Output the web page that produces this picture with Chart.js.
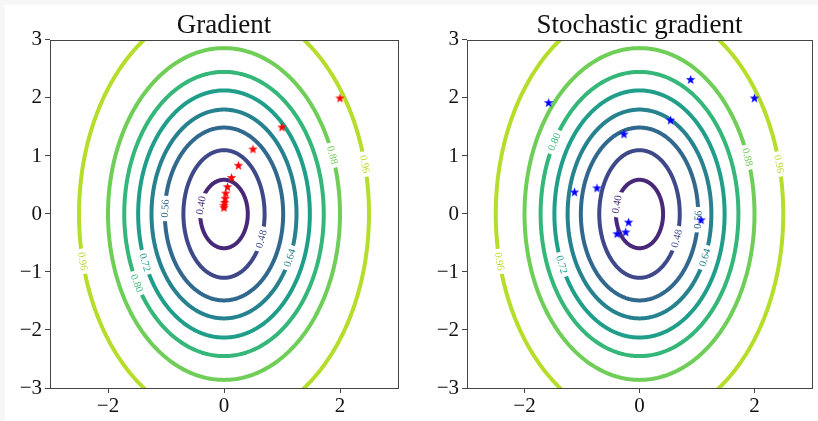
<!DOCTYPE html>
<html>
<head>
<meta charset="utf-8">
<script src="https://cdn.jsdelivr.net/npm/chart.js@4"></script>
<style>
html,body{margin:0;padding:0;background:#f7f7f7;}
#fig{position:absolute;left:5px;top:5px;width:813px;height:416px;background:#fff;}
#fig canvas{position:absolute;top:0;}
</style>
</head>
<body>
<div id="fig">
<canvas id="gradChart" width="404" height="416" style="left:0"></canvas>
<canvas id="sgdChart" width="409" height="416" style="left:404px"></canvas>
</div>
<script>
// contour levels and the semi-axes of each ellipse
const levels = [0.40,0.48,0.56,0.64,0.72,0.80,0.88,0.96];
const semiX = [0.41,0.70,1.02,1.25,1.48,1.72,2.00,2.50];
const semiY = [0.59,1.10,1.49,1.80,2.13,2.45,2.86,3.60];
const levelColors = ['#482878','#3e4989','#31688e','#26828e','#1f9e89','#35b779','#6ece58','#b5de2b'];

const xTicks = [-2,0,2];
const yTicks = [-3,-2,-1,0,1,2,3];

// gradient iterates
const gdX = [2,1,0.5,0.25,0.13,0.06,0.03,0.02,0.01,0.0,0.0];
const gdY = [2,1.5,1.12,0.84,0.63,0.47,0.36,0.27,0.2,0.15,0.11];
// stochastic gradient iterates
const sgdX = [2,0.89,-1.58,0.54,-0.27,-1.13,-0.74,1.07,-0.19,-0.24,-0.39];
const sgdY = [2,2.32,1.92,1.62,1.38,0.38,0.45,-0.10,-0.14,-0.31,-0.34];

// inline contour labels
const gdLabelLevel = [0.40,0.48,0.56,0.64,0.72,0.80,0.88,0.96,0.96];
const gdLabelX = [-0.43,0.67,-1.07,1.11,-1.39,-1.51,1.88,2.46,-2.45];
const gdLabelY = [0.16,-0.45,0.10,-0.74,-0.85,-1.20,1.02,0.87,-0.82];
const sgdLabelLevel = [0.40,0.48,0.56,0.64,0.72,0.80,0.88,0.96,0.96];
const sgdLabelX = [-0.43,0.69,1.04,1.12,-1.32,-1.49,1.90,2.45,-2.44];
const sgdLabelY = [0.18,-0.45,-0.10,-0.74,-0.85,1.25,0.99,0.87,-0.82];

const SERIF = '"Liberation Serif", "DejaVu Serif", serif';

function ellipsePoints(a,b){
  const pts=[];
  for(let i=0;i<=240;i++){
    const t=2*Math.PI*i/240;
    pts.push({x:a*Math.cos(t), y:b*Math.sin(t)});
  }
  return pts;
}

function starImage(color){
  const c=document.createElement('canvas');
  c.width=11; c.height=11;
  const g=c.getContext('2d');
  g.fillStyle=color;
  g.beginPath();
  for(let i=0;i<10;i++){
    const r=i%2?2.0:5.0;
    const ang=-Math.PI/2+i*Math.PI/5;
    g.lineTo(5.5+r*Math.cos(ang),5.9+r*Math.sin(ang));
  }
  g.closePath(); g.fill();
  return c;
}

const fmt = v => v<0 ? '\u2212'+Math.abs(v) : String(v);

// labels are painted just before the stars (dataset 0) so the stars stay on top
const contourLabels = {
  id:'contourLabels',
  beforeDatasetDraw(chart,args,opts){
    if(args.index!==0) return;
    const ctx=chart.ctx, xs=chart.scales.x, ys=chart.scales.y;
    ctx.save();
    ctx.font='10.5px '+SERIF;
    ctx.textAlign='center'; ctx.textBaseline='middle';
    opts.lv.forEach((L,i)=>{
      const k=levels.indexOf(L);
      const a=semiX[k], b=semiY[k];
      const t=Math.atan2(opts.ly[i]/b, opts.lx[i]/a);
      const px=xs.getPixelForValue(a*Math.cos(t)), py=ys.getPixelForValue(b*Math.sin(t));
      const dx=xs.getPixelForValue(-a*Math.sin(t))-xs.getPixelForValue(0);
      const dy=-(ys.getPixelForValue(b*Math.cos(t))-ys.getPixelForValue(0));
      let deg=Math.atan2(dy,dx)*180/Math.PI;
      deg=((deg+90)%180+180)%180-90;
      const txt=L.toFixed(2);
      const w=ctx.measureText(txt).width;
      ctx.save();
      ctx.translate(px,py);
      ctx.rotate(-deg*Math.PI/180);
      ctx.fillStyle='#fff';
      ctx.fillRect(-w/2-3.5,-4,w+7,8);
      ctx.fillStyle=levelColors[k];
      ctx.fillText(txt,0,0.5);
      ctx.restore();
    });
    ctx.restore();
  }
};

const frame = {
  id:'frame',
  afterDraw(chart){
    const {ctx, chartArea:{left,top,right,bottom}}=chart;
    ctx.save();
    ctx.strokeStyle='#444'; ctx.lineWidth=1;
    ctx.strokeRect(Math.round(left)+0.5, Math.round(top)+0.5, Math.round(right-left), Math.round(bottom-top));
    ctx.restore();
  }
};

function makeChart(id,title,sx,sy,color,lv,lx,ly,yWidth,padRight){
  const datasets=[{
    data: sx.map((v,i)=>({x:v,y:sy[i]})),
    showLine:false,
    pointStyle: starImage(color),
    pointRadius:5
  }];
  levels.forEach((L,k)=>{
    datasets.push({
      data: ellipsePoints(semiX[k],semiY[k]),
      showLine:true,
      borderColor: levelColors[k],
      borderWidth:4,
      borderJoinStyle:'round',
      pointRadius:0,
      tension:0.001,
      fill:false,
      clip:0
    });
  });
  return new Chart(document.getElementById(id),{
    type:'scatter',
    data:{datasets},
    options:{
      responsive:false,
      animation:false,
      layout:{padding:{left:0,right:padRight,top:0,bottom:0}},
      scales:{
        x:{
          type:'linear', min:-3, max:3,
          afterBuildTicks: s=>{ s.ticks=xTicks.map(v=>({value:v})); },
          afterFit: s=>{ s.height=33; },
          grid:{drawOnChartArea:false, tickLength:5, color:'#444', lineWidth:1},
          border:{display:false},
          ticks:{font:{family:SERIF,size:21}, color:'#111', padding:1, maxRotation:0, autoSkip:false, callback:fmt}
        },
        y:{
          type:'linear', min:-3, max:3,
          afterBuildTicks: s=>{ s.ticks=yTicks.map(v=>({value:v})); },
          afterFit: s=>{ s.width=yWidth; },
          grid:{drawOnChartArea:false, tickLength:5, color:'#444', lineWidth:1},
          border:{display:false},
          ticks:{font:{family:SERIF,size:21}, color:'#111', padding:3, autoSkip:false, callback:fmt}
        }
      },
      plugins:{
        legend:{display:false},
        tooltip:{enabled:false},
        title:{display:true, text:title, fullSize:false, color:'#111',
          font:{family:SERIF,size:27,weight:'normal',lineHeight:1.04},
          padding:{top:6.9,bottom:0}},
        contourLabels:{lv,lx,ly}
      }
    },
    plugins:[contourLabels,frame]
  });
}

makeChart('gradChart','Gradient',gdX,gdY,'#ff0000',gdLabelLevel,gdLabelX,gdLabelY,45,11);
makeChart('sgdChart','Stochastic gradient',sgdX,sgdY,'#0000ff',sgdLabelLevel,sgdLabelX,sgdLabelY,58,3);
</script>
</body>
</html>
